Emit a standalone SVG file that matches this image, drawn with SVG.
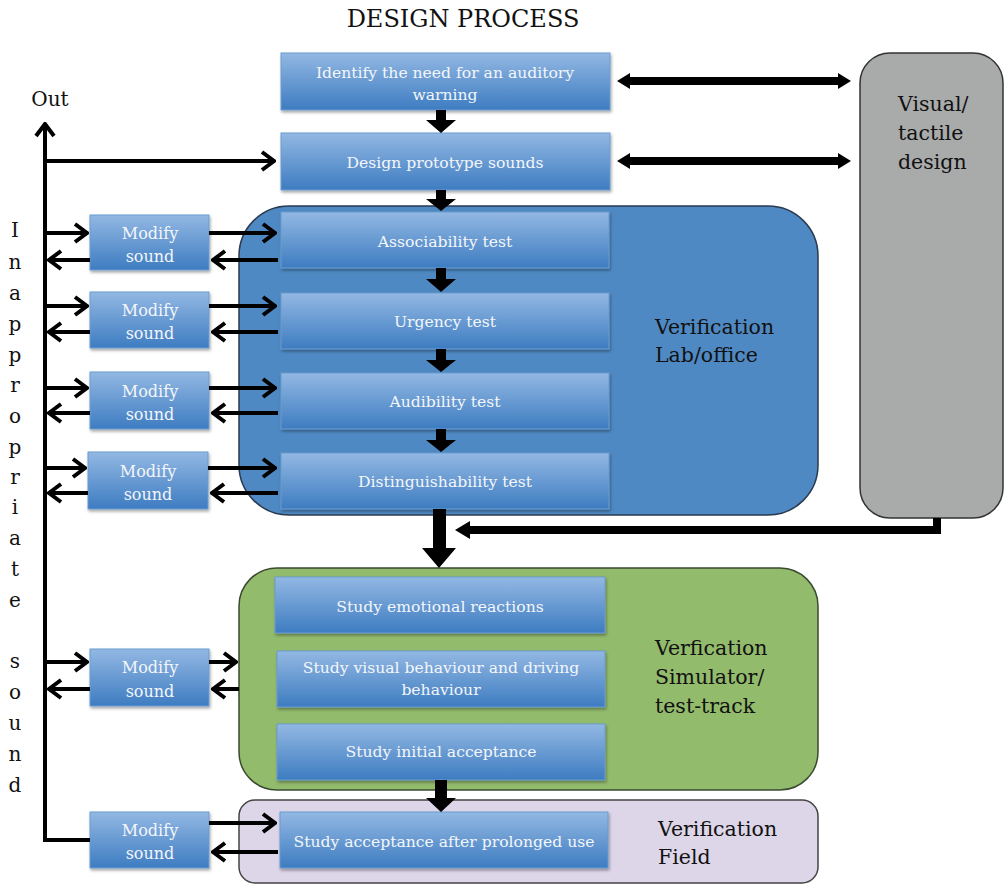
<svg xmlns="http://www.w3.org/2000/svg" width="1005" height="885" viewBox="0 0 1005 885">
<defs>
<linearGradient id="bg" x1="0" y1="0" x2="0" y2="1">
<stop offset="0" stop-color="#93b8e3"/>
<stop offset="1" stop-color="#3d7cc1"/>
</linearGradient>
<filter id="sh" x="-5%" y="-10%" width="110%" height="130%">
<feDropShadow dx="1" dy="2" stdDeviation="1.5" flood-color="#000" flood-opacity="0.35"/>
</filter>
<marker id="ch" markerUnits="userSpaceOnUse" viewBox="-14 -12 16 24" refX="0" refY="0" markerWidth="16" markerHeight="24" orient="auto">
<path d="M-12,-9 L0,0 L-12,9" fill="none" stroke="#000" stroke-width="4" stroke-linejoin="miter"/>
</marker>
</defs>
<style>
.box{fill:url(#bg);stroke:#6a9bd0;stroke-width:1;filter:url(#sh)}
.bt{font-family:"DejaVu Serif",serif;font-size:15.6px;fill:#f4f6fa;text-anchor:middle}
.mt{font-family:"DejaVu Serif",serif;font-size:16px;fill:#f4f6fa;text-anchor:middle}
.lab{font-family:"DejaVu Serif",serif;font-size:20.5px;fill:#111}
.ln{fill:none;stroke:#000;stroke-width:4}
.ar{fill:none;stroke:#000;stroke-width:4;marker-end:url(#ch)}
.fat{fill:#000}
.side{font-family:"DejaVu Serif",serif;font-size:20px;fill:#111;text-anchor:middle}
</style>
<rect width="1005" height="885" fill="#fff"/>
<text x="463" y="27" font-family="DejaVu Serif, serif" font-size="24" text-anchor="middle" fill="#111">DESIGN PROCESS</text>

<g id="container-lab"><rect x="239" y="206" width="579" height="309" rx="50" fill="#4f89c3" stroke="#2a3a50" stroke-width="1.5"/>
<text class="lab" x="655" y="334">Verification</text><text class="lab" x="655" y="362">Lab/office</text></g>
<g id="container-sim"><rect x="239" y="568" width="579" height="222" rx="38" fill="#93bb6c" stroke="#3a4a30" stroke-width="1.5"/>
<text class="lab" x="655" y="655">Verfication</text><text class="lab" x="655" y="684">Simulator/</text><text class="lab" x="655" y="713">test-track</text></g>
<g id="container-field"><rect x="239" y="800" width="579" height="83" rx="16" fill="#ddd5e8" stroke="#444" stroke-width="1.5"/>
<text class="lab" x="658" y="836">Verification</text><text class="lab" x="658" y="864">Field</text></g>
<g id="visual-tactile"><rect x="860" y="53" width="143" height="465" rx="30" fill="#a9aaaa" stroke="#333" stroke-width="1.5"/>
<text class="lab" x="898" y="111">Visual/</text><text class="lab" x="898" y="140">tactile</text><text class="lab" x="898" y="169">design</text></g>

<g id="identify"><rect class="box" x="281" y="53" width="329" height="57"/><text class="bt" x="445" y="78">Identify the need for an auditory</text><text class="bt" x="445" y="100">warning</text></g>
<g id="prototype"><rect class="box" x="281" y="133" width="329" height="57"/><text class="bt" x="445" y="168">Design prototype sounds</text></g>
<g id="associability"><rect class="box" x="281" y="212" width="328" height="56"/><text class="bt" x="445" y="247">Associability test</text></g>
<g id="urgency"><rect class="box" x="281" y="293" width="328" height="56"/><text class="bt" x="445" y="327">Urgency test</text></g>
<g id="audibility"><rect class="box" x="281" y="373" width="328" height="56"/><text class="bt" x="445" y="407">Audibility test</text></g>
<g id="distinguishability"><rect class="box" x="281" y="453" width="328" height="56"/><text class="bt" x="445" y="487">Distinguishability test</text></g>
<g id="emotional"><rect class="box" x="275" y="577" width="330" height="56"/><text class="bt" x="440" y="612">Study emotional reactions</text></g>
<g id="visual-behaviour"><rect class="box" x="277" y="651" width="328" height="56"/><text class="bt" x="441" y="673">Study visual behaviour and driving</text><text class="bt" x="441" y="695">behaviour</text></g>
<g id="initial-acceptance"><rect class="box" x="277" y="724" width="328" height="56"/><text class="bt" x="441" y="757">Study initial acceptance</text></g>
<g id="prolonged"><rect class="box" x="280" y="812" width="328" height="56"/><text class="bt" x="444" y="847">Study acceptance after prolonged use</text></g>

<g id="modify1"><rect class="box" x="90" y="215" width="119" height="55"/><text class="mt" x="150" y="239">Modify</text><text class="mt" x="150" y="262">sound</text></g>
<g id="modify2"><rect class="box" x="90" y="292" width="119" height="56"/><text class="mt" x="150" y="316">Modify</text><text class="mt" x="150" y="339">sound</text></g>
<g id="modify3"><rect class="box" x="90" y="372" width="119" height="57"/><text class="mt" x="150" y="397">Modify</text><text class="mt" x="150" y="420">sound</text></g>
<g id="modify4"><rect class="box" x="88" y="452" width="120" height="57"/><text class="mt" x="148" y="477">Modify</text><text class="mt" x="148" y="500">sound</text></g>
<g id="modify5"><rect class="box" x="90" y="649" width="119" height="57"/><text class="mt" x="150" y="673">Modify</text><text class="mt" x="150" y="697">sound</text></g>
<g id="modify6"><rect class="box" x="90" y="812" width="119" height="56"/><text class="mt" x="150" y="836">Modify</text><text class="mt" x="150" y="859">sound</text></g>

<g id="side-labels">
<text x="50" y="106" font-family="DejaVu Serif, serif" font-size="20" text-anchor="middle" fill="#111">Out</text>
<text class="side" x="15" y="237">I</text><text class="side" x="15" y="269">n</text><text class="side" x="15" y="300">a</text><text class="side" x="15" y="331">p</text><text class="side" x="15" y="362">p</text><text class="side" x="15" y="392">r</text><text class="side" x="15" y="423">o</text><text class="side" x="15" y="454">p</text><text class="side" x="15" y="484">r</text><text class="side" x="15" y="514">i</text><text class="side" x="15" y="545">a</text><text class="side" x="15" y="576">t</text><text class="side" x="15" y="607">e</text><text class="side" x="15" y="668">s</text><text class="side" x="15" y="699">o</text><text class="side" x="15" y="730">u</text><text class="side" x="15" y="761">n</text><text class="side" x="15" y="792">d</text>
</g>

<g id="connectors">
<path class="ar" d="M45,841 L45,124"/>
<path class="ln" d="M43,840 L90,840"/>
<path class="ar" d="M45,161 L274,161"/>
<path class="ar" d="M45,233 L87,233"/><path class="ar" d="M90,260 L49,260"/>
<path class="ar" d="M209,233 L275,233"/><path class="ar" d="M278,260 L213,260"/>
<path class="ar" d="M45,306 L87,306"/><path class="ar" d="M90,332 L49,332"/>
<path class="ar" d="M209,306 L275,306"/><path class="ar" d="M278,332 L213,332"/>
<path class="ar" d="M45,388 L87,388"/><path class="ar" d="M90,413 L49,413"/>
<path class="ar" d="M209,388 L275,388"/><path class="ar" d="M278,413 L213,413"/>
<path class="ar" d="M45,468 L85,468"/><path class="ar" d="M88,493 L49,493"/>
<path class="ar" d="M208,468 L275,468"/><path class="ar" d="M278,493 L212,493"/>
<path class="ar" d="M45,662 L87,662"/><path class="ar" d="M90,689 L49,689"/>
<path class="ar" d="M209,662 L236,662"/><path class="ar" d="M239,689 L213,689"/>
<path class="ar" d="M209,823 L275,823"/><path class="ar" d="M278,852 L213,852"/>
<path class="fat" d="M436,110 H446 V120 H456 L441,133 L426,120 H436 Z"/>
<path class="fat" d="M436,190 H446 V199 H456 L441,211 L426,199 H436 Z"/>
<path class="fat" d="M436,268 H446 V279 H456 L441,292 L426,279 H436 Z"/>
<path class="fat" d="M436,349 H446 V360 H456 L441,372 L426,360 H436 Z"/>
<path class="fat" d="M436,429 H446 V440 H456 L441,452 L426,440 H436 Z"/>
<path class="fat" d="M433,509 H446 V548 H456 L439,568 L422,548 H433 Z"/>
<path class="fat" d="M435,780 H447 V798 H456 L441,812 L426,798 H435 Z"/>
<path class="fat" d="M617,81 L630,73 V77 H838 V73 L851,81 L838,89 V85 H630 V89 Z"/>
<path class="fat" d="M617,161 L630,153 V157 H838 V153 L851,161 L838,169 V165 H630 V169 Z"/>
<path class="fat" d="M933,518 H941 V534 H470 V539 L455,530 L470,521 V526 H933 Z"/>
</g>
</svg>
